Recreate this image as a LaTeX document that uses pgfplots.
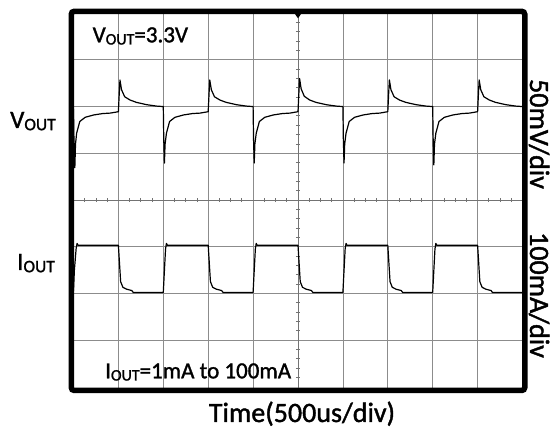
\documentclass[border=0pt]{standalone}
\usepackage{fontspec}
\setmainfont{Carlito}[FakeBold=1.4]
\usepackage{pgfplots}
\pgfplotsset{compat=1.18}
\newcommand{\sub}[1]{\raisebox{-2.2pt}{\fontsize{#1}{#1}\selectfont OUT}}
\newcommand{\fs}[1]{\fontsize{#1}{#1}\selectfont}
\begin{document}
\begin{tikzpicture}[x=1pt,y=1pt]
\useasboundingbox (0,0) rectangle (551,430);
\begin{axis}[
  at={(71.25pt,39.5pt)}, anchor=south west,
  scale only axis, width=453.5pt, height=379.2pt,
  xmin=-0.05, xmax=10.05, ymin=-0.08, ymax=8.04,
  xtick={1,...,9}, ytick={1,...,7},
  xticklabels={}, yticklabels={},
  major tick length=0pt, tick style={draw=none},
  grid=major, major grid style={draw=black!45, line width=0.8pt},
  axis line style={draw=none},
  clip=false,
]
% center cross ticks
\pgfplotsinvokeforeach{0.25,0.5,0.75,1.25,1.5,1.75,2.25,2.5,2.75,3.25,3.5,3.75,4.25,4.5,4.75,5.25,5.5,5.75,6.25,6.5,6.75,7.25,7.5,7.75,8.25,8.5,8.75,9.25,9.5,9.75}
  {\draw[black!55, line width=0.8pt] (axis cs:#1,3.955) -- (axis cs:#1,4.045);}
\pgfplotsinvokeforeach{0.2,0.4,0.6,0.8,1.2,1.4,1.6,1.8,2.2,2.4,2.6,2.8,3.2,3.4,3.6,3.8,4.2,4.4,4.6,4.8,5.2,5.4,5.6,5.8,6.2,6.4,6.6,6.8,7.2,7.4,7.6,7.8}
  {\draw[black!55, line width=0.8pt] (axis cs:4.955,#1) -- (axis cs:5.045,#1);}
\draw[black!55, line width=0.8pt] (axis cs:0,4) -- (axis cs:10,4);
\draw[black!55, line width=0.8pt] (axis cs:5,0) -- (axis cs:5,8);
% Vout
\addplot[black, line width=1.2pt, line join=round] coordinates {
(0.00,5.95) (0.01,5.3) (0.03,4.69) (0.045,5.2) (0.07,5.43) (0.14,5.68) (0.26,5.77) (0.45,5.82) (0.65,5.85) (0.82,5.86) (1.0,5.89)
(1.02,6.3) (1.035,6.57) (1.07,6.36) (1.14,6.21) (1.26,6.14) (1.4,6.09) (1.63,6.04) (1.85,6.01) (2.0,6.0)
(2.01,5.3) (2.025,4.79) (2.04,5.2) (2.07,5.43) (2.14,5.68) (2.26,5.77) (2.45,5.82) (2.65,5.85) (2.82,5.86) (3.0,5.89)
(3.02,6.3) (3.035,6.57) (3.07,6.36) (3.14,6.21) (3.26,6.14) (3.4,6.09) (3.63,6.04) (3.85,6.01) (4.0,6.0)
(4.01,5.3) (4.025,4.79) (4.04,5.2) (4.07,5.43) (4.14,5.68) (4.26,5.77) (4.45,5.82) (4.65,5.85) (4.82,5.86) (5.0,5.89)
(5.02,6.3) (5.035,6.6) (5.07,6.38) (5.14,6.22) (5.26,6.14) (5.4,6.09) (5.63,6.04) (5.85,6.01) (6.0,6.0)
(6.01,5.3) (6.025,4.79) (6.04,5.2) (6.07,5.43) (6.14,5.68) (6.26,5.77) (6.45,5.82) (6.65,5.85) (6.82,5.86) (7.0,5.89)
(7.02,6.3) (7.035,6.57) (7.07,6.36) (7.14,6.21) (7.26,6.14) (7.4,6.09) (7.63,6.04) (7.85,6.01) (8.0,6.0)
(8.01,5.3) (8.025,4.75) (8.04,5.2) (8.07,5.43) (8.14,5.68) (8.26,5.77) (8.45,5.82) (8.65,5.85) (8.82,5.86) (9.0,5.89)
(9.02,6.3) (9.035,6.57) (9.07,6.36) (9.14,6.21) (9.26,6.14) (9.4,6.09) (9.63,6.04) (9.85,6.01) (10.0,6.0)
};
% Iout
\addplot[black, line width=1.2pt, line join=round] coordinates {
(0.0,2.05) (0.02,2.5) (0.06,2.97) (0.08,3.07) (0.1,3.03) (1.0,3.03)
(1.03,2.56) (1.05,2.25) (1.1,2.13) (1.18,2.09) (1.3,2.06) (1.33,2.02) (2.0,2.02)
(2.02,2.4) (2.05,2.95) (2.07,3.07) (2.09,3.03) (3.0,3.03)
(3.03,2.56) (3.05,2.25) (3.1,2.13) (3.18,2.09) (3.3,2.06) (3.33,2.02) (4.0,2.02)
(4.02,2.4) (4.05,2.95) (4.07,3.07) (4.09,3.03) (5.0,3.03)
(5.03,2.56) (5.05,2.25) (5.1,2.13) (5.18,2.09) (5.3,2.06) (5.33,2.02) (6.0,2.02)
(6.02,2.4) (6.05,2.95) (6.07,3.07) (6.09,3.03) (7.0,3.03)
(7.03,2.56) (7.05,2.25) (7.1,2.13) (7.18,2.09) (7.3,2.06) (7.33,2.02) (8.0,2.02)
(8.02,2.4) (8.05,2.95) (8.07,3.07) (8.09,3.03) (9.0,3.03)
(9.03,2.56) (9.05,2.25) (9.1,2.13) (9.18,2.09) (9.3,2.06) (9.33,2.02) (10.0,2.02)
};
% frame and marker
\draw[black, line width=5.5pt, rounded corners=3pt] (rel axis cs:0,0) rectangle (rel axis cs:1,1);
\fill[black] (axis cs:4.92,8.0) -- (axis cs:5.08,8.0) -- (axis cs:5,7.89) -- cycle;
\end{axis}
\node[anchor=base west, inner sep=0] at (92.5,387.7) {\fs{23}V\sub{16}=3.3V};
\node[anchor=base west, inner sep=0] at (105,51.7) {\fs{23}I\sub{16}=1mA to 100mA};
\node[anchor=base west, inner sep=0] at (10,302) {\fs{25}V\sub{17.5}};
\node[anchor=base west, inner sep=0] at (17,160) {\fs{25}I\sub{17.5}};
\node[anchor=base, inner sep=0] at (302,8) {\fs{28}Time(500us/div)};
\node[anchor=base, inner sep=0, rotate=-90] at (530,296) {\fs{28}50mV/div};
\node[anchor=base, inner sep=0, rotate=-90] at (530,135) {\fs{28}100mA/div};
\end{tikzpicture}
\end{document}
